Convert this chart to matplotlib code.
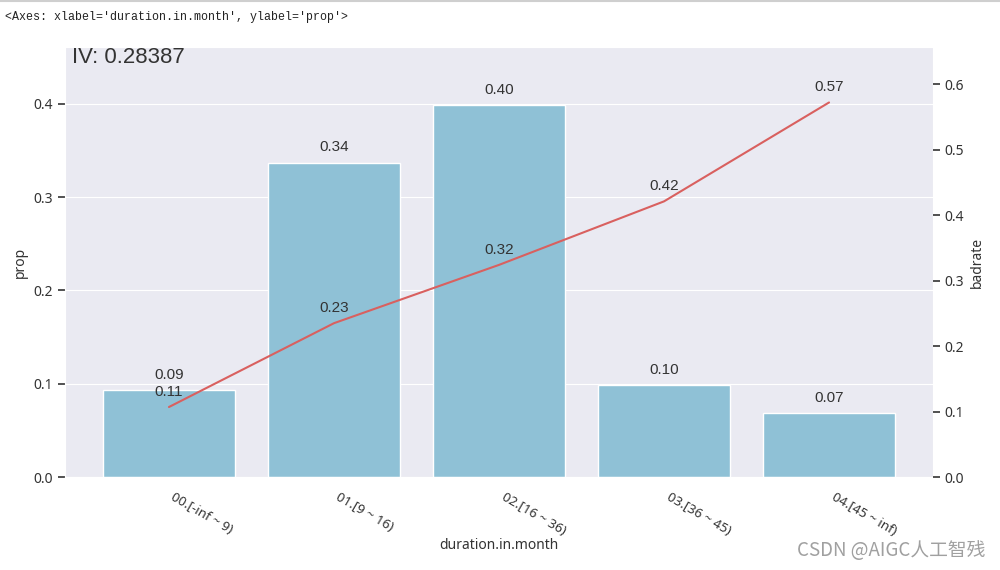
import matplotlib.pyplot as plt
import seaborn as sns
from matplotlib.lines import Line2D

bins = ['00.[-inf ~ 9)', '01.[9 ~ 16)', '02.[16 ~ 36)', '03.[36 ~ 45)', '04.[45 ~ inf)']
prop = [0.093, 0.337, 0.399, 0.099, 0.069]
badrate = [0.107, 0.235, 0.324, 0.421, 0.572]
iv = 0.28387

sns.set_style('darkgrid')
plt.rcParams['font.family'] = ['Noto Sans', 'DejaVu Sans']
plt.rcParams['axes.unicode_minus'] = False

fig = plt.figure(figsize=(10, 5.7), dpi=100)
ax = fig.add_axes([0.065, 0.163, 0.868, 0.7545])

x = list(range(len(bins)))
ax.bar(x, prop, width=0.8, color='#8fc1d6')
ax.set_xlim(-0.63, 4.63)
ax.set_ylim(0, max(prop) * 1.155)
ax.grid(False, axis='x')
ax.set_xticks(x)
ax.set_xticklabels(bins, rotation=-30, ha='left', fontsize=9.5, color='#333333')
ax.set_xlabel('duration.in.month', fontsize=10, color='#333333', labelpad=0)
ax.set_ylabel('prop', fontsize=10, color='#333333')
ax.tick_params(axis='y', left=True, length=5, width=1.2, color='#333333', labelsize=10, labelcolor='#333333')
ax.tick_params(axis='x', bottom=False, pad=6)
for xi, v in zip(x, prop):
    ax.annotate('%.2f' % v, (xi, v), xytext=(0, 8), textcoords='offset points',
                ha='center', fontsize=11, family='Liberation Sans', color='#333333')
ax.text(0.008, 0.963, 'IV: %.5f' % iv, transform=ax.transAxes, fontsize=16,
        family='Liberation Sans', color='#333333')

ax2 = ax.twinx()
ax2.plot(x, badrate, color='#d9605f', linewidth=1.5)
ax2.set_ylim(0, max(badrate) * 1.148)
ax2.grid(False)
ax2.set_ylabel('badrate', fontsize=10, color='#333333')
ax2.tick_params(axis='y', right=True, length=5, width=1.2, color='#333333', labelsize=10, labelcolor='#333333')
for xi, v in zip(x, badrate):
    ax2.annotate('%.2f' % v, (xi, v), xytext=(0, 8), textcoords='offset points',
                 ha='center', fontsize=11, family='Liberation Sans', color='#333333')
for s in ax2.spines.values():
    s.set_visible(False)

fig.text(0.005, 0.97, "<Axes: xlabel='duration.in.month', ylabel='prop'>",
         family='Liberation Mono', fontsize=8.4, va='center', color='#222222')
fig.add_artist(Line2D([0, 1], [0.998, 0.998], color='#cfcfcf', linewidth=1.5))
fig.text(0.985, 0.035, 'CSDN @AIGC人工智残', ha='right', va='center', fontsize=13.5,
         family=['Noto Sans CJK SC', 'DejaVu Sans'], color='#a0a0a0')

fig.savefig('out.png', dpi=100)
